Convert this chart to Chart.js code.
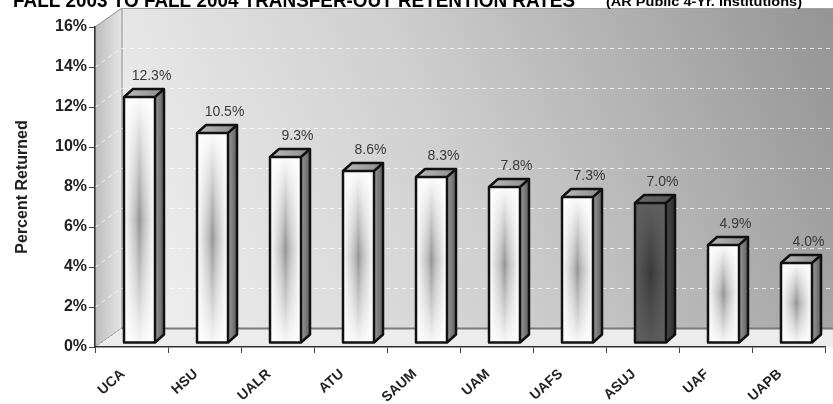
<!DOCTYPE html>
<html><head><meta charset="utf-8">
<script src="https://cdn.jsdelivr.net/npm/chart.js@4"></script>
<style>html,body{margin:0;padding:0;background:#fff;overflow:hidden}canvas{display:block}</style>
</head><body>
<canvas id="c" width="833" height="404"></canvas>
<script>
const categories = ['UCA','HSU','UALR','ATU','SAUM','UAM','UAFS','ASUJ','UAF','UAPB'];
const rates = [12.3,10.5,9.3,8.6,8.3,7.8,7.3,7.0,4.9,4.0];
const valueLabels = ['12.3%','10.5%','9.3%','8.6%','8.3%','7.8%','7.3%','7.0%','4.9%','4.0%'];
const highlighted = ['ASUJ'];
const yTicks = [0,2,4,6,8,10,12,14,16];
const titleText = 'FALL 2003 TO FALL 2004 TRANSFER-OUT RETENTION RATES';
const subtitleText = '(AR Public 4-Yr. Institutions)';
const yTitle = 'Percent Returned';

const WALL_DX = 27, WALL_DY = -19;   // depth of the 3D box
const BAR_OX = 8, BAR_OY = -4;       // bars sit slightly into the box
const BAR_DX = 9, BAR_DY = -8;       // depth of each bar

function drawBox(chart) {
  const ctx = chart.ctx, a = chart.chartArea, ys = chart.scales.y;
  const L = a.left, R = a.right + 60, T = a.top, B = a.bottom;
  ctx.save();
  const g = ctx.createLinearGradient(L + WALL_DX, B, R, T);
  g.addColorStop(0, '#f2f2f2');
  g.addColorStop(0.45, '#cfcfcf');
  g.addColorStop(1, '#8e8e8e');
  ctx.fillStyle = g;
  ctx.fillRect(L + WALL_DX, T + WALL_DY, R - L, B - T);
  ctx.beginPath();
  ctx.moveTo(L, B); ctx.lineTo(L, T); ctx.lineTo(L + WALL_DX, T + WALL_DY); ctx.lineTo(L + WALL_DX, B + WALL_DY); ctx.closePath();
  const gl = ctx.createLinearGradient(L, 0, L + WALL_DX, 0);
  gl.addColorStop(0, '#bcbcbc'); gl.addColorStop(1, '#e6e6e6');
  ctx.fillStyle = gl; ctx.fill();
  ctx.strokeStyle = '#8a8a8a'; ctx.lineWidth = 1; ctx.stroke();
  ctx.beginPath();
  ctx.moveTo(L, B); ctx.lineTo(L + WALL_DX, B + WALL_DY); ctx.lineTo(R, B + WALL_DY); ctx.lineTo(R, B); ctx.closePath();
  ctx.fillStyle = '#ececec'; ctx.fill();
  ctx.beginPath(); ctx.moveTo(L + WALL_DX, B + WALL_DY + 0.5); ctx.lineTo(R, B + WALL_DY + 0.5);
  ctx.strokeStyle = '#7a7a7a'; ctx.lineWidth = 2; ctx.stroke();
  ctx.beginPath(); ctx.moveTo(L + WALL_DX, T + WALL_DY + 0.5); ctx.lineTo(R, T + WALL_DY + 0.5);
  ctx.strokeStyle = '#a0a0a0'; ctx.lineWidth = 1; ctx.stroke();
  ctx.setLineDash([4, 4]);
  yTicks.forEach(v => {
    if (v === 0 || v === 16) return;
    const y = ys.getPixelForValue(v);
    ctx.beginPath(); ctx.moveTo(L + WALL_DX, y + WALL_DY + 0.5); ctx.lineTo(R, y + WALL_DY + 0.5);
    ctx.strokeStyle = 'rgba(255,255,255,0.75)'; ctx.lineWidth = 1; ctx.stroke();
    ctx.beginPath(); ctx.moveTo(L, y); ctx.lineTo(L + WALL_DX, y + WALL_DY);
    ctx.strokeStyle = 'rgba(255,255,255,0.8)'; ctx.stroke();
  });
  ctx.setLineDash([2, 2]);
  ctx.beginPath(); ctx.moveTo(L + 3, B - 2); ctx.lineTo(L + WALL_DX, B + WALL_DY);
  ctx.strokeStyle = '#9a9a9a'; ctx.stroke();
  ctx.restore();
}

function drawBar(ctx, L, R, T, B, dark) {
  const dx = BAR_DX, dy = BAR_DY, h = B - T;
  ctx.save();
  ctx.beginPath();
  ctx.moveTo(R, B); ctx.lineTo(R + dx, B + dy); ctx.lineTo(R + dx, T + dy); ctx.lineTo(R, T); ctx.closePath();
  const gs = ctx.createLinearGradient(R, 0, R + dx, 0);
  if (dark) { gs.addColorStop(0, '#4a4a4a'); gs.addColorStop(1, '#2e2e2e'); }
  else { gs.addColorStop(0, '#9a9a9a'); gs.addColorStop(1, '#5e5e5e'); }
  ctx.fillStyle = gs; ctx.fill();
  ctx.beginPath();
  ctx.moveTo(L, T); ctx.lineTo(L + dx, T + dy); ctx.lineTo(R + dx, T + dy); ctx.lineTo(R, T); ctx.closePath();
  const gt = ctx.createLinearGradient(L, T, R + dx, T + dy);
  if (dark) { gt.addColorStop(0, '#6a6a6a'); gt.addColorStop(1, '#555'); }
  else { gt.addColorStop(0, '#bdbdbd'); gt.addColorStop(1, '#8a8a8a'); }
  ctx.fillStyle = gt; ctx.fill();
  const gv = ctx.createLinearGradient(0, T, 0, B);
  if (dark) {
    gv.addColorStop(0, '#606060'); gv.addColorStop(0.5, '#3a3a3a'); gv.addColorStop(1, '#5a5a5a');
  } else {
    gv.addColorStop(0, '#fbfbfb'); gv.addColorStop(0.5, '#959595'); gv.addColorStop(1, '#f6f6f6');
  }
  ctx.fillStyle = gv; ctx.fillRect(L, T, R - L, h);
  const gh = ctx.createLinearGradient(L, 0, R, 0);
  if (dark) {
    gh.addColorStop(0, 'rgba(95,95,95,0.95)'); gh.addColorStop(0.5, 'rgba(95,95,95,0)'); gh.addColorStop(1, 'rgba(95,95,95,0.95)');
  } else {
    gh.addColorStop(0, 'rgba(255,255,255,1)'); gh.addColorStop(0.38, 'rgba(255,255,255,0.35)');
    gh.addColorStop(0.5, 'rgba(255,255,255,0)'); gh.addColorStop(0.62, 'rgba(255,255,255,0.35)');
    gh.addColorStop(1, 'rgba(255,255,255,1)');
  }
  ctx.fillStyle = gh; ctx.fillRect(L, T, R - L, h);
  ctx.strokeStyle = '#111'; ctx.lineWidth = 2.5; ctx.lineJoin = 'round';
  ctx.beginPath();
  ctx.moveTo(L, B); ctx.lineTo(L, T); ctx.lineTo(L + dx, T + dy); ctx.lineTo(R + dx, T + dy);
  ctx.lineTo(R + dx, B + dy); ctx.lineTo(R, B); ctx.closePath();
  ctx.stroke();
  ctx.beginPath(); ctx.moveTo(L, T); ctx.lineTo(R, T); ctx.lineTo(R + dx, T + dy);
  ctx.moveTo(R, T); ctx.lineTo(R, B);
  ctx.stroke();
  ctx.restore();
}

const box3d = {
  id: 'box3d',
  beforeDraw(chart) { drawBox(chart); },
  afterDatasetsDraw(chart) {
    const ctx = chart.ctx;
    const meta = chart.getDatasetMeta(0);
    meta.data.forEach((el, i) => {
      const p = el.getProps(['x', 'y', 'base', 'width'], true);
      const L = p.x - p.width / 2 + BAR_OX, R = p.x + p.width / 2 + BAR_OX;
      const T = p.y + BAR_OY, B = p.base + BAR_OY;
      drawBar(ctx, L, R, T, B, highlighted.includes(categories[i]));
      ctx.save();
      ctx.font = '14px "Liberation Sans", Arial, sans-serif';
      ctx.fillStyle = '#3a3a3a';
      ctx.textAlign = 'center'; ctx.textBaseline = 'alphabetic';
      ctx.fillText(valueLabels[i], (L + R) / 2 + 12, T - 17);
      ctx.restore();
    });
  },
  afterDraw(chart) {
    const ctx = chart.ctx;
    ctx.save();
    ctx.fillStyle = '#000';
    ctx.textBaseline = 'alphabetic'; ctx.textAlign = 'left';
    ctx.font = 'bold 20px "Liberation Sans Narrow", "Liberation Sans", Arial, sans-serif';
    const w = ctx.measureText(titleText).width;
    ctx.save();
    ctx.translate(13, 7);
    ctx.scale(562 / w, 1);
    ctx.fillText(titleText, 0, 0);
    ctx.restore();
    ctx.font = 'bold 13px "Liberation Sans Narrow", "Liberation Sans", Arial, sans-serif';
    const w2 = ctx.measureText(subtitleText).width;
    ctx.translate(606, 6);
    ctx.scale(196 / w2, 1);
    ctx.fillText(subtitleText, 0, 0);
    ctx.restore();
  }
};

new Chart(document.getElementById('c'), {
  type: 'bar',
  data: {
    labels: categories,
    datasets: [{ data: rates, backgroundColor: 'rgba(0,0,0,0)', borderWidth: 0, barThickness: 31 }]
  },
  options: {
    responsive: false, animation: false,
    layout: { padding: { top: 27, right: 8, left: 0, bottom: 0 } },
    plugins: { legend: { display: false }, tooltip: { enabled: false } },
    scales: {
      x: {
        grid: { offset: true, drawOnChartArea: false, drawTicks: true, tickLength: 6, color: '#444' },
        border: { display: true, color: '#333', width: 1.5 },
        ticks: {
          callback: (v, i) => categories[i] + '   ',
          font: { family: '"Liberation Sans", Arial, sans-serif', weight: 'bold', size: 14 },
          color: '#222', minRotation: 42, maxRotation: 42, padding: 5, autoSkip: false
        },
        afterFit(s) { s.height = 57; }
      },
      y: {
        min: 0, max: 16,
        afterBuildTicks(s) { s.ticks = yTicks.map(v => ({ value: v })); },
        grid: { drawOnChartArea: false, tickLength: 6, color: '#444' },
        border: { display: true, color: '#333', width: 1.5 },
        ticks: { callback: v => v + '%', font: { family: '"Liberation Sans", Arial, sans-serif', weight: 'bold', size: 16 }, color: '#222', padding: 2 },
        title: { display: true, text: yTitle, font: { family: '"Liberation Sans", Arial, sans-serif', weight: 'bold', size: 16 }, color: '#222', padding: { top: 13, bottom: 0 } },
        afterFit(s) { s.width = 95; }
      }
    }
  },
  plugins: [box3d]
});
</script>
</body></html>
